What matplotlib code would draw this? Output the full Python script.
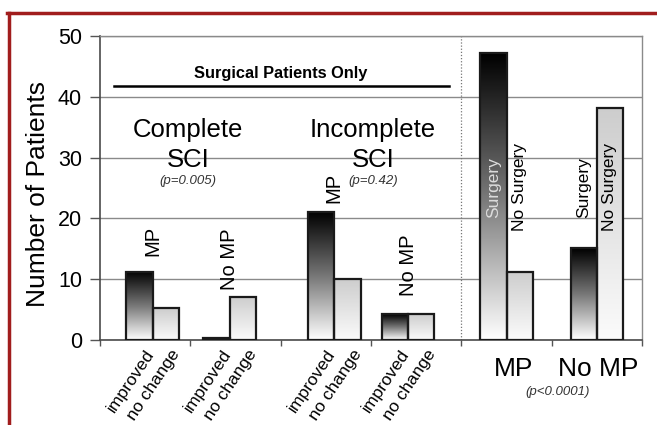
import numpy as np
import matplotlib
matplotlib.use("Agg")
import matplotlib.pyplot as plt
from matplotlib.colors import LinearSegmentedColormap
from matplotlib.lines import Line2D

plt.rcParams['font.family'] = ['Liberation Sans', 'DejaVu Sans']

# values
outcome_labels = ['improved', 'no change']
left_groups = ['MP', 'No MP', 'MP', 'No MP']       # Complete SCI x2, Incomplete SCI x2
improved = [11.2, 0.4, 21.0, 4.2]
no_change = [5.2, 7.1, 10.0, 4.2]
right_groups = ['MP', 'No MP']
surgery_labels = ['Surgery', 'No Surgery']
surgery = [47.2, 15.1]
no_surgery = [11.2, 38.2]
yticks = [0, 10, 20, 30, 40, 50]

first = improved + surgery
second = no_change + no_surgery

# layout
shift = [0.083, -0.066, 0.094, -0.089, 0.0, 0.0]   # pair offset inside each slot
w = 0.29
group_label_y = [16.3, 13.3, 25.0, 12.3]

fig = plt.figure(figsize=(6.57, 4.25), dpi=100)
ax = fig.add_axes([0.1522, 0.2, 0.825, 0.7153])

dark = LinearSegmentedColormap.from_list('dark', ['#ffffff', '#777777', '#000000'])
light = LinearSegmentedColormap.from_list('light', ['#fbfbfb', '#cdcdcd'])
grad = np.linspace(0, 1, 256).reshape(-1, 1)


def gradient_bar(x, h, cmap):
    bar = ax.bar(x, h, width=w, facecolor='none', edgecolor='#1a1a1a',
                 linewidth=1.6, zorder=3)[0]
    im = ax.imshow(grad, extent=[x - w / 2, x + w / 2, 0, h], origin='lower',
                   aspect='auto', cmap=cmap, zorder=2)
    im.set_clip_path(bar)
    return bar


for i in range(len(first)):
    xc = i + shift[i]
    gradient_bar(xc - w / 2, first[i], dark)
    gradient_bar(xc + w / 2, second[i], light)

ax.set_xlim(-0.5, 5.5)
ax.set_ylim(0, 50)
ax.set_yticks(yticks)
ax.set_xticks(np.arange(-0.5, 6, 1))
ax.set_xticklabels([])
ax.yaxis.grid(True, color='#8a8a8a', lw=1)
ax.set_axisbelow(True)
for s in ['left', 'bottom']:
    ax.spines[s].set_color('#4a4a4a')
    ax.spines[s].set_linewidth(1.2)
for s in ['top', 'right']:
    ax.spines[s].set_color('#8a8a8a')
    ax.spines[s].set_linewidth(1)
ax.tick_params(axis='y', length=7, width=1, color='#555555', labelsize=15.5, pad=6)
ax.tick_params(axis='x', length=4, width=1, color='#555555')

# dotted separator between the two panels
ax.axvline(3.5, color='#777777', ls=(0, (1, 1.5)), lw=0.9, zorder=1)

# rotated outcome labels under the left bars
for i in range(len(improved)):
    for j, lab in enumerate(outcome_labels):
        xc = i + shift[i] + (j - 0.5) * w
        ax.annotate(lab, xy=(xc, 0), xytext=(8, -8), textcoords='offset points',
                    rotation=56, rotation_mode='anchor', ha='right', va='center',
                    fontsize=12.6, annotation_clip=False)

# MP / No MP above left bar pairs
for i, lab in enumerate(left_groups):
    ax.text(i + shift[i], group_label_y[i], lab, rotation=90, ha='center',
            va='center', fontsize=14.5)

# Surgery / No Surgery inside the right bars
for k in range(len(right_groups)):
    for j, lab in enumerate(surgery_labels):
        xc = 4 + k + (j - 0.5) * w
        col = '#dcdcdc' if (k == 0 and j == 0) else 'black'
        ax.text(xc, 25.1, lab, rotation=90, ha='center', va='center',
                fontsize=12.5, color=col, zorder=5)

# big category labels on the right
for k, lab in enumerate(right_groups):
    ax.text(4 + k + [0.077, 0.02][k], -4.85, lab, ha='center', va='center',
            fontsize=19, clip_on=False)
ax.text(4.57, -8.6, '(p<0.0001)', style='italic', fontsize=9.5, ha='center',
        va='center', color='#333333', clip_on=False)

# panel headings
ax.text(1.504, 43.75, 'Surgical Patients Only', fontweight='bold', fontsize=11.8,
        ha='center', va='center')
ax.plot([-0.345, 3.364], [41.8, 41.8], color='black', lw=1.8, zorder=4)

ax.text(0.474, 33.4, 'Complete', fontsize=18.5, ha='center', va='baseline')
ax.text(0.474, 28.5, 'SCI', fontsize=18.5, ha='center', va='baseline')
ax.text(0.474, 25.7, '(p=0.005)', style='italic', fontsize=9.5, ha='center',
        va='baseline', color='#333333')
ax.text(2.522, 33.4, 'Incomplete', fontsize=18.5, ha='center', va='baseline')
ax.text(2.522, 28.5, 'SCI', fontsize=18.5, ha='center', va='baseline')
ax.text(2.522, 25.7, '(p=0.42)', style='italic', fontsize=9.5, ha='center',
        va='baseline', color='#333333')

fig.text(38 / 657, 1 - 194 / 425, 'Number of Patients', rotation=90,
         ha='center', va='center', fontsize=19)

# dark red slide frame
frame = '#a11d1d'
fig.add_artist(Line2D([7 / 657, 1], [1 - 13 / 425] * 2, transform=fig.transFigure,
                      color=frame, lw=2.5))
fig.add_artist(Line2D([9 / 657] * 2, [0, 1 - 13 / 425], transform=fig.transFigure,
                      color=frame, lw=2.5))

fig.savefig('out.png', dpi=100)
